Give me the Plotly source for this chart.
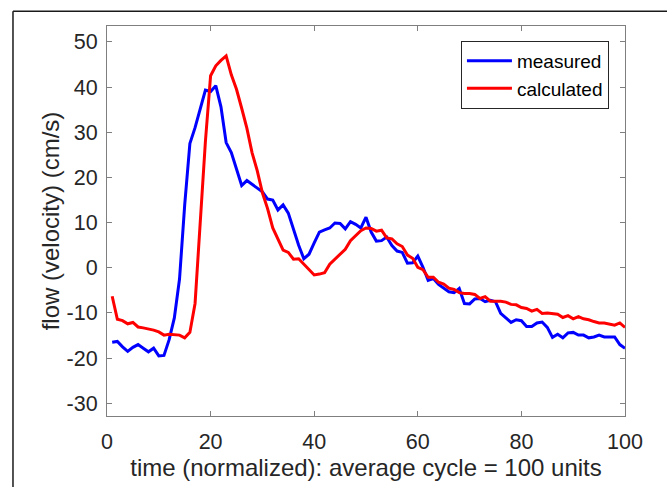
import plotly.graph_objects as go

time = list(range(1, 101))

measured = [
    -16.5, -16.3, -17.5, -18.5, -17.6, -17.0, -17.8, -18.6, -17.8, -19.5,
    -19.4, -15.9, -11.1, -2.5, 13.9, 27.5, 31.0, 35.0, 39.3, 39.0,
    40.3, 35.6, 27.7, 25.5, 22.0, 18.2, 19.3, 18.4, 17.6, 16.8,
    15.2, 15.0, 12.8, 13.9, 12.1, 8.5, 5.0, 2.0, 3.0, 5.5,
    7.9, 8.4, 8.8, 9.9, 9.8, 8.6, 10.2, 9.6, 8.8, 11.2,
    7.9, 5.9, 6.0, 6.8, 4.9, 3.7, 3.4, 1.0, 1.1, 2.6,
    0.1, -2.8, -2.4, -3.7, -4.6, -5.3, -5.5, -4.6, -7.9, -8.0,
    -6.9, -6.8, -7.5, -7.2, -7.5, -10.1, -11.1, -12.1, -11.5, -11.7,
    -13.0, -13.0, -12.2, -12.0, -13.2, -15.4, -14.7, -15.5, -14.4, -14.3,
    -14.9, -14.9, -15.5, -15.3, -14.9, -15.3, -15.3, -15.3, -17.0, -17.8,
]

calculated = [
    -6.3, -11.4, -11.7, -12.4, -12.1, -13.1, -13.3, -13.5, -13.8, -14.2,
    -14.9, -14.7, -14.8, -14.9, -15.5, -14.3, -7.9, 10.0, 28.0, 42.5,
    44.7, 45.9, 46.9, 42.7, 39.5, 35.3, 30.9, 25.5, 21.5, 16.6,
    13.1, 8.8, 6.3, 3.9, 3.4, 1.9, 2.0, 0.8, -0.3, -1.6,
    -1.4, -1.1, 0.8, 1.9, 2.8, 4.1, 6.0, 7.1, 8.2, 8.8,
    8.7, 8.1, 8.3, 6.6, 6.4, 5.3, 4.7, 2.8, 2.1, 0.1,
    -0.4, -2.1, -2.1, -3.2, -3.6, -4.5, -4.8, -5.5, -5.7, -5.7,
    -5.9, -6.8, -6.4, -7.4, -7.4, -7.4, -7.6, -8.1, -8.2, -8.8,
    -9.0, -9.6, -9.2, -10.1, -10.0, -10.1, -10.3, -11.0, -10.6, -11.3,
    -10.8, -11.3, -11.5, -11.9, -12.2, -12.2, -12.4, -12.7, -12.2, -13.2,
]

x_ticks = [0, 20, 40, 60, 80, 100]
x_tick_labels = ["0", "20", "40", "60", "80", "100"]
y_ticks = [-30, -20, -10, 0, 10, 20, 30, 40, 50]
y_tick_labels = ["-30", "-20", "-10", "0", "10", "20", "30", "40", "50"]

FONT = "Liberation Sans, Arial, Helvetica, sans-serif"
AX = "#7f7f7f"
TXT = "#262626"

fig = go.Figure()
fig.add_trace(go.Scatter(x=time, y=measured, mode="lines", name="measured",
                         line=dict(color="#0000ff", width=3)))
fig.add_trace(go.Scatter(x=time, y=calculated, mode="lines", name="calculated",
                         line=dict(color="#ff0000", width=3)))

axis_common = dict(
    showgrid=False, zeroline=False, showline=True, linecolor=AX, linewidth=1,
    mirror="ticks", ticks="inside", ticklen=5, tickcolor=AX, tickwidth=1,
    tickfont=dict(family=FONT, size=21.5, color=TXT),
)

fig.update_xaxes(range=[0, 100], tickvals=x_ticks, ticktext=x_tick_labels,
                 ticklabelstandoff=6,
                 title=dict(text="time (normalized): average cycle = 100 units",
                            font=dict(family=FONT, size=24, color=TXT), standoff=4),
                 **axis_common)
fig.update_yaxes(range=[-32.8, 53.5], tickvals=y_ticks, ticktext=y_tick_labels,
                 ticklabelstandoff=4,
                 title=dict(text="flow (velocity) (cm/s)",
                            font=dict(family=FONT, size=24, color=TXT), standoff=0),
                 **axis_common)

fig.update_layout(
    width=667, height=487,
    margin=dict(l=107, r=42, t=26, b=64),
    paper_bgcolor="white", plot_bgcolor="white",
    legend=dict(x=0.969, y=0.962, xanchor="right", yanchor="top",
                bgcolor="white", bordercolor=TXT, borderwidth=1,
                font=dict(family=FONT, size=19, color="#000000"),
                itemwidth=45, tracegroupgap=0),
    showlegend=True,
    shapes=[
        dict(type="line", xref="paper", yref="paper", x0=-0.1815, x1=-0.1815,
             y0=1.0378, y1=-0.3, line=dict(color="#1a1a1a", width=1.5)),
        dict(type="line", xref="paper", yref="paper", x0=-0.1815, x1=1.2,
             y0=1.0378, y1=1.0378, line=dict(color="#1a1a1a", width=1.5)),
    ],
)

fig.write_html("out.html", config={"displayModeBar": False},
               post_script="document.body.style.margin='0';")
